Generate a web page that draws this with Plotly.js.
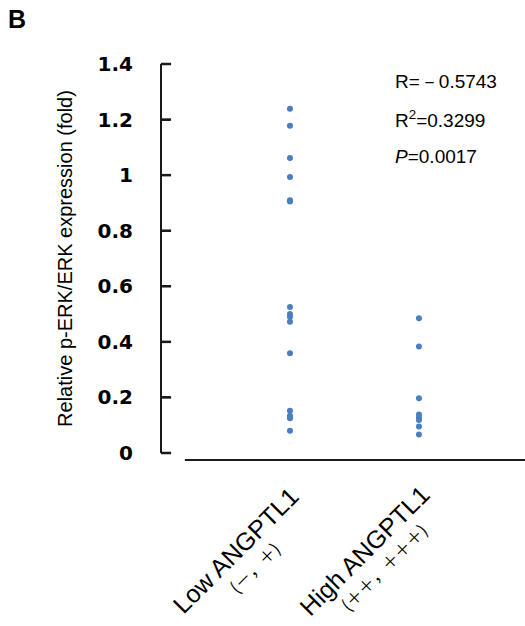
<!DOCTYPE html>
<html>
<head>
<meta charset="utf-8">
<script src="https://cdn.plot.ly/plotly-3.0.1.min.js"></script>
<style>html,body{margin:0;padding:0;background:#fff;}#chart{width:525px;height:626px;}</style>
</head>
<body>
<div id="chart"></div>
<script>
// ---- data ----
const categories = ['Low ANGPTL1', 'High ANGPTL1'];
const subLabels = ['(－，＋)', '(＋＋，＋＋＋)'];
const lowValues = [1.239, 1.178, 1.062, 0.993, 0.910, 0.905, 0.525, 0.500, 0.490, 0.472, 0.359, 0.152, 0.134, 0.125, 0.080];
const highValues = [0.485, 0.383, 0.197, 0.139, 0.127, 0.119, 0.095, 0.067];
const yTicks = [0, 0.2, 0.4, 0.6, 0.8, 1, 1.2, 1.4];
const yTickText = ['0', '0.2', '0.4', '0.6', '0.8', '1', '1.2', '1.4'];
const statLines = ['R=－0.5743', 'R<sup>2</sup>=0.3299', '<i>P</i>=0.0017'];
const yTitle = 'Relative p-ERK/ERK expression (fold)';
const panelLabel = 'B';

const groups = [lowValues, highValues];
const markerColor = '#4a7ebf';
const axisColor = '#1a1a1a';
const yRange = [0, 1.4];

const traces = groups.map((vals, i) => ({
  type: 'scatter',
  mode: 'markers',
  x: vals.map(() => categories[i]),
  y: vals,
  marker: {size: 6, color: markerColor},
  hoverinfo: 'skip',
  showlegend: false
}));

const annotations = [];
categories.forEach((c, i) => {
  annotations.push({
    xref: 'x', yref: 'paper', x: c, y: -0.250, xshift: -54,
    text: c, showarrow: false, textangle: -45,
    xanchor: 'center', yanchor: 'middle',
    font: {family: 'Liberation Sans, Arial, sans-serif', size: 25, color: '#000'}
  });
  annotations.push({
    xref: 'x', yref: 'paper', x: c, y: -0.293, xshift: -35,
    text: subLabels[i], showarrow: false, textangle: -45,
    xanchor: 'center', yanchor: 'middle',
    font: {family: 'Noto Sans CJK SC, sans-serif', size: 17, color: '#000'}
  });
});
const statY = [0.954, 0.859, 0.763];
statLines.forEach((t, i) => {
  annotations.push({
    xref: 'paper', yref: 'paper', x: 0.636, y: statY[i],
    text: t, showarrow: false, xanchor: 'left', yanchor: 'middle',
    font: {family: 'Liberation Sans, Arial, sans-serif', size: 19, color: '#000'}
  });
});
annotations.push({
  xref: 'paper', yref: 'paper', x: -0.40, y: 1.115,
  text: '<b>' + panelLabel + '</b>', showarrow: false, xanchor: 'center', yanchor: 'middle',
  font: {family: 'Liberation Sans, Arial, sans-serif', size: 25, color: '#000'}
});

// y-axis tick marks (pointing into the plot), generated from the tick values
const tickShapes = yTicks.map(v => {
  const p = (v - yRange[0]) / (yRange[1] - yRange[0]);
  return {
    type: 'line', xref: 'paper', yref: 'paper', layer: 'above',
    x0: -0.003, x1: 0.025, y0: p, y1: p,
    line: {color: axisColor, width: 2.5}
  };
});

const layout = {
  width: 525, height: 626,
  margin: {l: 162, r: 0, t: 64, b: 173},
  paper_bgcolor: '#fff', plot_bgcolor: '#fff',
  xaxis: {
    type: 'category', range: [-0.992, 1.822],
    showline: false, showgrid: false, zeroline: false, showticklabels: false, ticks: ''
  },
  yaxis: {
    range: yRange, tickvals: yTicks, ticktext: yTickText,
    showline: true, linecolor: axisColor, linewidth: 2,
    ticks: 'inside', ticklen: 8, tickwidth: 2, tickcolor: axisColor,
    showgrid: false, zeroline: false,
    ticklabelstandoff: 23,
    tickfont: {family: 'DejaVu Sans, sans-serif', size: 20, color: '#000', weight: 'bold'},
    title: {text: yTitle, standoff: 20, font: {family: 'Liberation Sans, Arial, sans-serif', size: 20, color: '#000'}}
  },
  shapes: [{
    type: 'line', xref: 'paper', yref: 'paper',
    x0: 0.063, x1: 1, y0: -0.018, y1: -0.018,
    line: {color: axisColor, width: 2}
  }].concat(tickShapes),
  annotations: annotations
};

Plotly.newPlot('chart', traces, layout, {displayModeBar: false, staticPlot: true});
</script>
</body>
</html>
